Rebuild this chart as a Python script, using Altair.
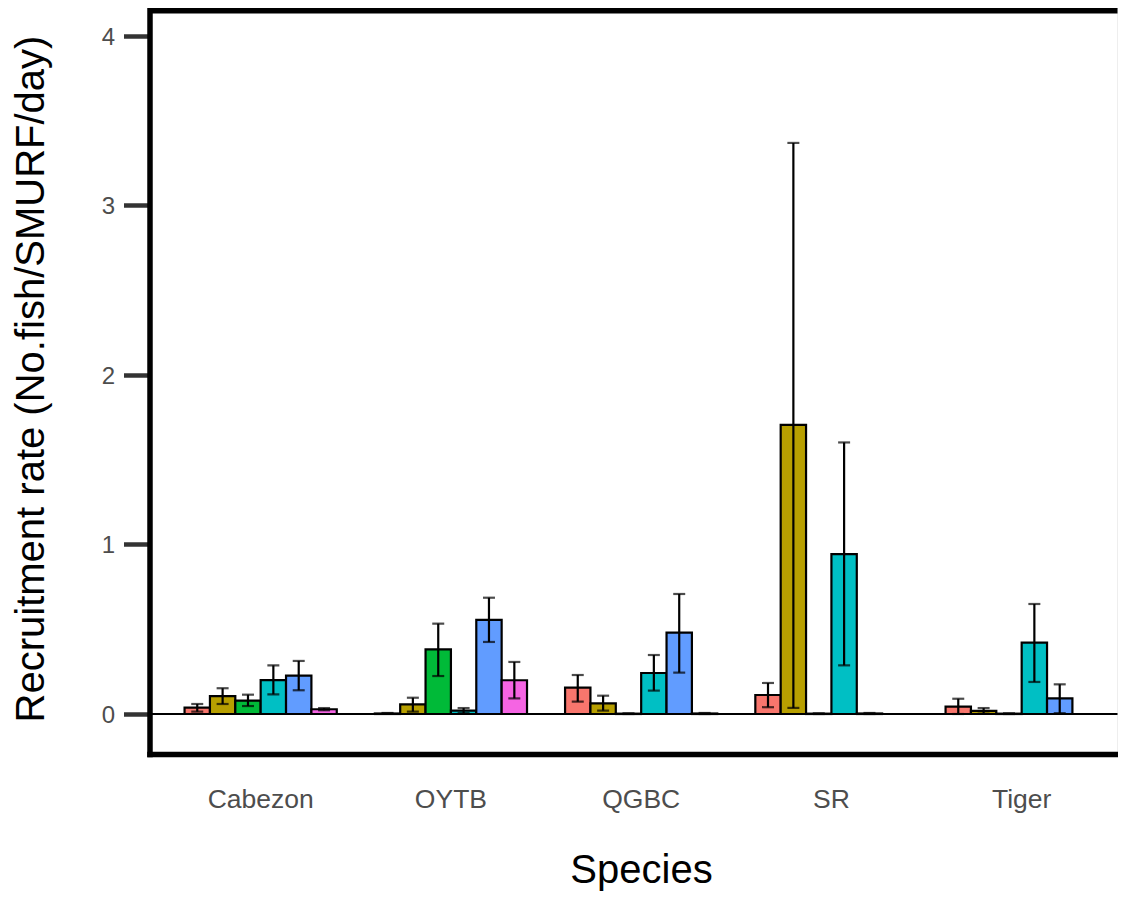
import altair as alt
import pandas as pd

species = ["Cabezon", "OYTB", "QGBC", "SR", "Tiger"]
groups = ["G1", "G2", "G3", "G4", "G5", "G6"]
colors = ["#F8766D", "#B79F00", "#00BA38", "#00BFC4", "#619CFF", "#F564E3"]

# mean values per group, in species order (None = no data)
mean_g1 = [0.037, 0.003, 0.155, 0.112, 0.043]
mean_g2 = [0.106, 0.057, 0.063, 1.706, 0.018]
mean_g3 = [0.079, 0.381, 0.002, 0.002, 0.002]
mean_g4 = [0.200, 0.020, 0.242, 0.943, 0.421]
mean_g5 = [0.226, 0.555, 0.480, 0.003, 0.092]
mean_g6 = [0.028, 0.199, 0.003, None, None]

low_g1 = [0.014, 0.001, 0.073, 0.040, 0.000]
low_g2 = [0.059, 0.014, 0.020, 0.036, 0.002]
low_g3 = [0.047, 0.224, 0.000, 0.000, 0.000]
low_g4 = [0.116, 0.005, 0.138, 0.287, 0.189]
low_g5 = [0.140, 0.425, 0.244, 0.000, 0.005]
low_g6 = [0.022, 0.092, 0.000, None, None]

high_g1 = [0.059, 0.006, 0.230, 0.183, 0.090]
high_g2 = [0.152, 0.096, 0.108, 3.369, 0.035]
high_g3 = [0.114, 0.533, 0.004, 0.004, 0.004]
high_g4 = [0.287, 0.035, 0.348, 1.602, 0.649]
high_g5 = [0.313, 0.686, 0.708, 0.006, 0.175]
high_g6 = [0.035, 0.307, 0.006, None, None]

means = [mean_g1, mean_g2, mean_g3, mean_g4, mean_g5, mean_g6]
lows = [low_g1, low_g2, low_g3, low_g4, low_g5, low_g6]
highs = [high_g1, high_g2, high_g3, high_g4, high_g5, high_g6]

rows = []
for g, m, lo, hi in zip(groups, means, lows, highs):
    for s, mv, lv, hv in zip(species, m, lo, hi):
        if mv is None:
            continue
        rows.append({"species": s, "group": g, "mean": mv, "low": lv, "high": hv})
df = pd.DataFrame(rows)

FONT = "Liberation Sans, Arial, sans-serif"
W, H = 968, 746

x_enc = alt.X(
    "species:N",
    scale=alt.Scale(domain=species, paddingInner=0.2, paddingOuter=0.144, align=0.64),
    axis=alt.Axis(
        title="Species", labelAngle=0, ticks=False, tickSize=0, labelPadding=32,
        domainColor="black", domainWidth=5.5, domainCap="square",
        labelFont=FONT, labelFontSize=26.5, labelColor="#4D4D4D",
        titleFont=FONT, titleFontSize=40, titleFontWeight="normal", titleColor="black",
        titleX=491.5, titleY=128, titleBaseline="alphabetic", titleAlign="center",
    ),
)
xo_enc = alt.XOffset("group:N", scale=alt.Scale(domain=groups, paddingInner=0, paddingOuter=0))
y_scale = alt.Scale(domain=[-0.236, 4.165], nice=False, zero=False)
y_axis = alt.Axis(
    title="Recruitment rate (No.fish/SMURF/day)", values=[0, 1, 2, 3, 4], format="d",
    grid=False, domainColor="black", domainWidth=5.5, domainCap="square",
    tickColor="#333333", tickWidth=4.5, tickSize=26, labelPadding=9, labelOffset=1.5,
    labelFont=FONT, labelFontSize=24, labelColor="#4D4D4D",
    titleFont=FONT, titleFontSize=40, titleFontWeight="normal", titleColor="black",
    titleX=-106.5, titleY=370.5, titleAngle=270, titleBaseline="alphabetic", titleAlign="center",
)

base = alt.Chart(df)

bars = base.mark_bar(stroke="black", strokeWidth=2.2).encode(
    x=x_enc,
    xOffset=xo_enc,
    y=alt.Y("mean:Q", scale=y_scale, axis=y_axis),
    y2=alt.datum(0),
    color=alt.Color("group:N", scale=alt.Scale(domain=groups, range=colors), legend=None),
)

zero = alt.Chart(pd.DataFrame({"z": [0]})).mark_rule(color="black", strokeWidth=2).encode(
    y=alt.Y("z:Q")
)

err = base.mark_rule(color="black", strokeWidth=2.2).encode(
    x=x_enc, xOffset=xo_enc, y="low:Q", y2="high:Q"
)
cap_hi = base.mark_tick(color="black", thickness=2.2, size=12, orient="horizontal").encode(
    x=x_enc, xOffset=xo_enc, y="high:Q"
)
cap_lo = base.mark_tick(color="black", thickness=2.2, size=12, orient="horizontal").encode(
    x=x_enc, xOffset=xo_enc, y="low:Q"
)

top_border = alt.Chart(pd.DataFrame({"z": [0]})).mark_rule(color="black", strokeWidth=11).encode(
    y=alt.value(0)
)

chart = alt.layer(bars, zero, err, cap_hi, cap_lo, top_border).properties(
    width=W,
    height=H,
    autosize=alt.AutoSizeParams(type="none"),
    padding={"left": 141.5, "top": 0, "right": 0, "bottom": 138},
).configure_view(stroke=None).configure(background="white")

chart.save("out.html", embed_options={"renderer": "svg", "actions": False})
